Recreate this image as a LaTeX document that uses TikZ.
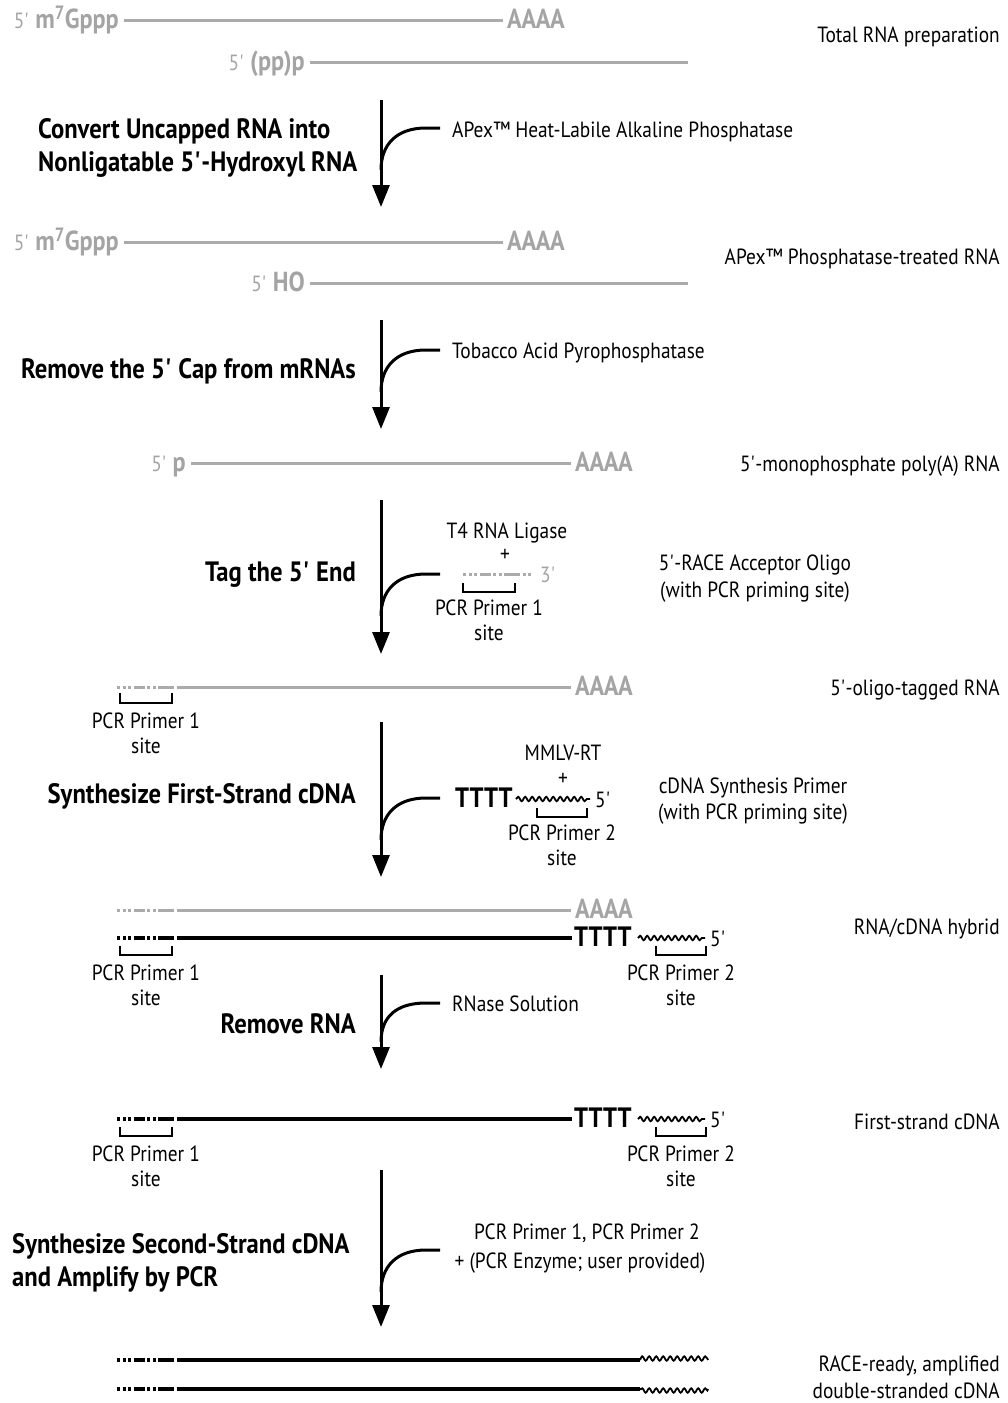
\documentclass[tikz,border=0pt]{standalone}
\usepackage{fontspec}
\setmainfont{PT Sans}[FakeStretch=0.88]
\usetikzlibrary{arrows.meta,decorations.pathmorphing}
\definecolor{rnagray}{HTML}{ABABAB}
\definecolor{txtgray}{HTML}{A4A4A4}
\newcommand{\ap}{\textquotesingle}
\newcommand{\fivep}{{\mdseries\fontsize{22}{24}\selectfont 5\ap}}
\tikzset{
  lab/.style={inner sep=0pt, yshift=-6pt, font=\fontsize{22}{25}\selectfont},
  stepname/.style={inner sep=0pt, yshift=-6pt, font=\bfseries\fontsize{28}{33}\selectfont},
  gl/.style={inner sep=0pt, yshift=-6pt, text=txtgray, font=\bfseries\fontsize{27.5}{30}\selectfont},
  glr/.style={inner sep=0pt, yshift=-6pt, text=txtgray, font=\fontsize{22}{24}\selectfont},
  tt/.style={inner sep=0pt, yshift=-6pt, font=\bfseries\fontsize{28}{30}\selectfont},
  rna/.style={rnagray, line width=3pt},
  dna/.style={black, line width=4pt},
  oligo/.style={line width=3pt, dash pattern=on 3pt off 2.5pt on 3pt off 2.5pt on 3pt off 2.5pt on 11pt off 2.5pt on 3pt off 2.5pt on 3pt off 2.5pt on 16pt off 2.5pt},
  wave/.style={line width=1.8pt, decorate, decoration={snake, amplitude=2.2pt, segment length=7pt}},
  flow/.style={line width=3pt, -{Triangle[width=17pt,length=22pt]}},
  feed/.style={line width=3pt},
  brk/.style={line width=1.6pt},
}
\begin{document}
\begin{tikzpicture}[x=1pt,y=-1pt]
\useasboundingbox (0,0) rectangle (1008,1403);

% ---------- total RNA ----------
\coordinate (y1) at (0,20); \coordinate (y1b) at (0,62);
\node[gl,anchor=mid east] (r1c) at (119,20) {\fivep{} m\textsuperscript{7}Gppp};
\node[gl,anchor=mid west] (r1a) at (507,20) {AAAA};
\draw[rna] ([xshift=5pt]r1c.east |- y1) -- ([xshift=-4pt]r1a.west |- y1);
\node[gl,anchor=mid east] (r1p) at (305,62) {\fivep{} (pp)p};
\coordinate (r1e) at (688,62);
\draw[rna] ([xshift=5pt]r1p.east |- y1b) -- (r1e);
\node[lab,anchor=mid east] (l1) at (1000,34) {Total RNA preparation};

% ---------- step 1 ----------
\coordinate (s1t) at (381,100); \coordinate (s1b) at (381,207);
\draw[flow] (s1t) -- (s1b);
\node[lab,anchor=mid west] (e1) at (452,129) {APex™ Heat-Labile Alkaline Phosphatase};
\coordinate (s1f) at (440,128); \coordinate (s1j) at (381,170);
\draw[feed] (s1f) -- ++(-14,0) .. controls +(-30,0) and +(0,-25) .. (s1j);
\node[stepname,anchor=mid west] (n1a) at (38,130) {Convert Uncapped RNA into};
\node[stepname,anchor=mid west] (n1b) at (38,163) {Nonligatable 5\ap-Hydroxyl RNA};

% ---------- phosphatase-treated RNA ----------
\coordinate (y2) at (0,242); \coordinate (y2b) at (0,283);
\node[gl,anchor=mid east] (r2c) at (119,242) {\fivep{} m\textsuperscript{7}Gppp};
\node[gl,anchor=mid west] (r2a) at (507,242) {AAAA};
\draw[rna] ([xshift=5pt]r2c.east |- y2) -- ([xshift=-4pt]r2a.west |- y2);
\node[gl,anchor=mid east] (r2h) at (305,283) {\fivep{} HO};
\coordinate (r2e) at (688,283);
\draw[rna] ([xshift=5pt]r2h.east |- y2b) -- (r2e);
\node[lab,anchor=mid east] (l2) at (1000,256) {APex™ Phosphatase-treated RNA};

% ---------- step 2 ----------
\coordinate (s2t) at (381,320); \coordinate (s2b) at (381,429);
\draw[flow] (s2t) -- (s2b);
\node[lab,anchor=mid west] (e2) at (452,350) {Tobacco Acid Pyrophosphatase};
\coordinate (s2f) at (440,350); \coordinate (s2j) at (381,392);
\draw[feed] (s2f) -- ++(-14,0) .. controls +(-30,0) and +(0,-25) .. (s2j);
\node[stepname,anchor=mid east] (n2) at (356,370) {Remove the 5\ap{} Cap from mRNAs};

% ---------- monophosphate RNA ----------
\coordinate (y3) at (0,463);
\node[gl,anchor=mid east] (r3p) at (186,463) {\fivep{} p};
\node[gl,anchor=mid west] (r3a) at (575,463) {AAAA};
\draw[rna] ([xshift=5pt]r3p.east |- y3) -- ([xshift=-4pt]r3a.west |- y3);
\node[lab,anchor=mid east] (l3) at (1000,463) {5\ap-monophosphate poly(A) RNA};

% ---------- step 3 ----------
\coordinate (s3t) at (381,500); \coordinate (s3b) at (381,654);
\draw[flow] (s3t) -- (s3b);
\coordinate (o3a) at (463,574); \coordinate (o3b) at (531,574);
\draw[oligo,rnagray] (o3a) -- (o3b);
\node[glr,anchor=mid west] (o3e) at (540,574) {3\ap};
\coordinate (s3f) at (440,574); \coordinate (s3j) at (381,616);
\draw[feed] (s3f) -- ++(-14,0) .. controls +(-30,0) and +(0,-25) .. (s3j);
\node[stepname,anchor=mid east] (n3) at (356,573) {Tag the 5\ap{} End};
\node[lab,anchor=mid] (lig) at (507,530) {T4 RNA Ligase};
\node[lab,anchor=mid] (pl3) at (505,553) {+};
\draw[brk] (463,583) -- (463,592) -- (515,592) -- (515,583);
\node[lab,anchor=mid] (p3a) at (489,607) {PCR Primer 1};
\node[lab,anchor=mid] (p3b) at (489,632) {site};
\node[lab,anchor=mid] (ac1) at (755,562) {5\ap-RACE Acceptor Oligo};
\node[lab,anchor=mid] (ac2) at (755,589) {(with PCR priming site)};

% ---------- oligo-tagged RNA ----------
\coordinate (y4) at (0,687);
\coordinate (r4o) at (117,687); \coordinate (r4s) at (177,687);
\draw[oligo,rnagray] (r4o) -- (r4s);
\node[gl,anchor=mid west] (r4a) at (575,687) {AAAA};
\draw[rna] (r4s) -- ([xshift=-4pt]r4a.west |- y4);
\draw[brk] (120,693) -- (120,703) -- (172,703) -- (172,693);
\node[lab,anchor=mid] (p4a) at (146,720) {PCR Primer 1};
\node[lab,anchor=mid] (p4b) at (146,745) {site};
\node[lab,anchor=mid east] (l4) at (1000,687) {5\ap-oligo-tagged RNA};

% ---------- step 4 ----------
\coordinate (s4t) at (381,722); \coordinate (s4b) at (381,877);
\draw[flow] (s4t) -- (s4b);
\node[tt,anchor=mid west] (t4) at (455,799) {TTTT};
\coordinate (w4a) at (516,799); \coordinate (w4b) at (590,799);
\draw[wave] (w4a) -- (w4b);
\node[lab,anchor=mid west] (f4) at (595,799) {5\ap};
\coordinate (s4f) at (440,798); \coordinate (s4j) at (381,840);
\draw[feed] (s4f) -- ++(-14,0) .. controls +(-30,0) and +(0,-25) .. (s4j);
\node[stepname,anchor=mid east] (n4) at (356,795) {Synthesize First-Strand cDNA};
\node[lab,anchor=mid] (mm) at (563,752) {MMLV-RT};
\node[lab,anchor=mid] (pl4) at (563,777) {+};
\draw[brk] (537,808) -- (537,817) -- (587,817) -- (587,808);
\node[lab,anchor=mid] (p4c) at (562,832) {PCR Primer 2};
\node[lab,anchor=mid] (p4d) at (562,857) {site};
\node[lab,anchor=mid] (cd1) at (753,785) {cDNA Synthesis Primer};
\node[lab,anchor=mid] (cd2) at (753,811) {(with PCR priming site)};

% ---------- RNA/cDNA hybrid ----------
\coordinate (y5) at (0,910); \coordinate (y5b) at (0,938);
\coordinate (r5o) at (117,910); \coordinate (r5s) at (177,910);
\draw[oligo,rnagray] (r5o) -- (r5s);
\node[gl,anchor=mid west] (r5a) at (575,910) {AAAA};
\draw[rna] (r5s) -- ([xshift=-4pt]r5a.west |- y5);
\coordinate (d5o) at (117,938); \coordinate (d5s) at (177,938);
\draw[oligo,line width=4pt] (d5o) -- (d5s);
\node[tt,anchor=mid west] (t5) at (574,938) {TTTT};
\draw[dna] (d5s) -- ([xshift=-2pt]t5.west |- y5b);
\coordinate (w5a) at (638,938); \coordinate (w5b) at (705,938);
\draw[wave] (w5a) -- (w5b);
\node[lab,anchor=mid west] (f5) at (710,938) {5\ap};
\draw[brk] (120,946) -- (120,955) -- (172,955) -- (172,946);
\draw[brk] (656,946) -- (656,955) -- (706,955) -- (706,946);
\node[lab,anchor=mid] (p5a) at (146,972) {PCR Primer 1};
\node[lab,anchor=mid] (p5b) at (146,997) {site};
\node[lab,anchor=mid] (p5c) at (681,972) {PCR Primer 2};
\node[lab,anchor=mid] (p5d) at (681,997) {site};
\node[lab,anchor=mid east] (l5) at (1000,926) {RNA/cDNA hybrid};

% ---------- step 5 ----------
\coordinate (s5t) at (381,975); \coordinate (s5b) at (381,1069);
\draw[flow] (s5t) -- (s5b);
\node[lab,anchor=mid west] (e5) at (452,1003) {RNase Solution};
\coordinate (s5f) at (440,1003); \coordinate (s5j) at (381,1042);
\draw[feed] (s5f) -- ++(-14,0) .. controls +(-30,0) and +(0,-25) .. (s5j);
\node[stepname,anchor=mid east] (n5) at (356,1025) {Remove RNA};

% ---------- first-strand cDNA ----------
\coordinate (y6) at (0,1119);
\coordinate (d6o) at (117,1119); \coordinate (d6s) at (177,1119);
\draw[oligo,line width=4pt] (d6o) -- (d6s);
\node[tt,anchor=mid west] (t6) at (574,1119) {TTTT};
\draw[dna] (d6s) -- ([xshift=-2pt]t6.west |- y6);
\coordinate (w6a) at (638,1119); \coordinate (w6b) at (705,1119);
\draw[wave] (w6a) -- (w6b);
\node[lab,anchor=mid west] (f6) at (710,1119) {5\ap};
\draw[brk] (120,1127) -- (120,1136) -- (172,1136) -- (172,1127);
\draw[brk] (656,1127) -- (656,1136) -- (706,1136) -- (706,1127);
\node[lab,anchor=mid] (p6a) at (146,1153) {PCR Primer 1};
\node[lab,anchor=mid] (p6b) at (146,1178) {site};
\node[lab,anchor=mid] (p6c) at (681,1153) {PCR Primer 2};
\node[lab,anchor=mid] (p6d) at (681,1178) {site};
\node[lab,anchor=mid east] (l6) at (1000,1121) {First-strand cDNA};

% ---------- step 6 ----------
\coordinate (s6t) at (381,1170); \coordinate (s6b) at (381,1327);
\draw[flow] (s6t) -- (s6b);
\node[lab,anchor=mid] (e6a) at (587,1231) {PCR Primer 1, PCR Primer 2};
\node[lab,anchor=mid] (e6b) at (580,1260) {+ (PCR Enzyme; user provided)};
\coordinate (s6f) at (440,1250); \coordinate (s6j) at (381,1292);
\draw[feed] (s6f) -- ++(-14,0) .. controls +(-30,0) and +(0,-25) .. (s6j);
\node[stepname,anchor=mid west] (n6a) at (12,1245) {Synthesize Second-Strand cDNA};
\node[stepname,anchor=mid west] (n6b) at (12,1278) {and Amplify by PCR};

% ---------- amplified double-stranded cDNA ----------
\coordinate (d7o) at (117,1360); \coordinate (d7s) at (177,1360);
\coordinate (d7e) at (640,1360); \coordinate (d7w) at (708,1360);
\draw[oligo,line width=4pt] (d7o) -- (d7s);
\draw[dna] (d7s) -- (d7e);
\draw[wave,decoration={raise=1.5pt}] (d7e) -- (d7w);
\coordinate (d8o) at (117,1389); \coordinate (d8s) at (177,1389);
\coordinate (d8e) at (640,1389); \coordinate (d8w) at (708,1389);
\draw[oligo,line width=4pt] (d8o) -- (d8s);
\draw[dna] (d8s) -- (d8e);
\draw[wave,decoration={raise=-1.5pt}] (d8e) -- (d8w);
\node[lab,anchor=mid east] (l7a) at (1000,1363) {RACE-ready, amplified};
\node[lab,anchor=mid east] (l7b) at (1000,1390) {double-stranded cDNA};
\end{tikzpicture}
\end{document}
